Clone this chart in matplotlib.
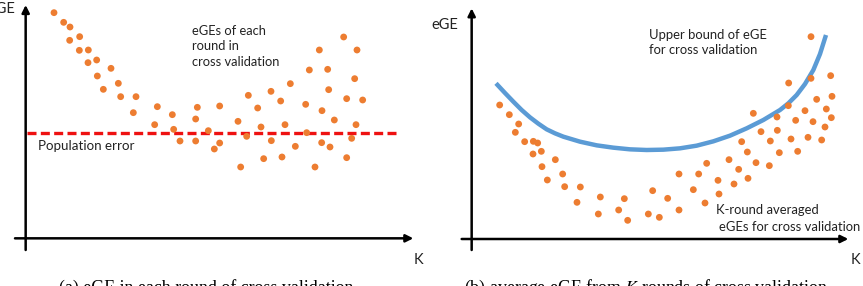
import matplotlib
matplotlib.use("Agg")
import matplotlib.pyplot as plt

plt.rcParams["mathtext.fontset"] = "stix"

# (a) eGE of every round of cross validation (arbitrary units)
k_a = [85, 114, 133, 132, 162, 161, 188, 187, 213, 215, 256, 233, 278, 285, 331,
       323, 395, 387, 440, 444, 463, 510, 515, 510, 548, 582, 566, 582, 637, 645,
       663, 668, 696, 706, 714, 736, 737, 765, 769, 778, 794, 809, 840, 843, 851,
       868, 881, 889, 888, 906, 909, 913, 926, 954, 963, 963, 978, 987, 991, 994,
       1011]
ege_a = [677, 648, 634, 594, 605, 564, 565, 527, 535, 487, 510, 447, 465, 425, 425,
         377, 395, 341, 371, 327, 292, 358, 393, 292, 323, 397, 268, 286, 351, 214,
         306, 429, 391, 334, 239, 441, 293, 412, 244, 341, 464, 276, 402, 317, 505,
         214, 565, 383, 287, 507, 446, 274, 355, 604, 419, 242, 300, 479, 341, 565,
         415]
pop_error = 315

# (b) K-round averaged eGE
k_b = [84, 113, 141, 131, 159, 185, 198, 184, 209, 211, 251, 227, 273, 279, 326,
       316, 386, 380, 458, 441, 468, 543, 530, 563, 588, 622, 622, 665, 681, 700,
       705, 739, 742, 772, 787, 801, 810, 827, 829, 845, 853, 868, 893, 896, 916,
       917, 923, 951, 950, 958, 972, 978, 1000, 1009, 1018, 1018, 1024, 1035, 1050,
       1064, 1060, 1077, 1081, 1079]
ege_b = [402, 373, 345, 320, 292, 293, 288, 255, 263, 217, 238, 177, 195, 157, 156,
         110, 126, 75, 121, 87, 56, 145, 75, 65, 122, 195, 87, 148, 195, 108,
         227, 176, 135, 238, 165, 209, 292, 261, 182, 377, 229, 322, 220, 294, 366,
         326, 259, 468, 400, 300, 356, 263, 385, 305, 607, 482, 352, 419, 297,
         390, 336, 490, 428, 364]

# upper bound curve
k_ub = [73, 100, 125, 150, 175, 200, 225, 250, 275, 325, 375, 425, 475, 525, 575,
        625, 675, 725, 775, 825, 875, 925, 950, 975, 1000, 1025, 1045, 1063]
ub = [467, 438, 412, 387, 365, 346, 329, 317, 307, 292, 281, 274, 269, 267, 268,
      272, 280, 293, 310, 332, 357, 387, 407, 432, 465, 507, 555, 612]

orange = "#ED7D31"
blue = "#5B9BD5"
red = "#EE1111"
txt = "#222222"
sans = ["Lato", "DejaVu Sans"]

fig = plt.figure(figsize=(8.63, 2.86), dpi=100)

ax1 = fig.add_axes([0, 0, 431 / 863, 1])
ax1.set_xlim(-77, 1216)
ax1.set_ylim(-143, 715)
ax1.axis("off")

ax2 = fig.add_axes([430 / 863, 0, 433 / 863, 1])
ax2.set_xlim(-125, 1174)
ax2.set_ylim(-141, 717)
ax2.axis("off")

arrow = dict(arrowstyle="-|>", lw=1.8, color="black", mutation_scale=11,
             shrinkA=0, shrinkB=0)

# panel a
ax1.annotate("", xy=(1163, 0), xytext=(-32, 0), arrowprops=arrow)
ax1.annotate("", xy=(0, 700), xytext=(0, -35), arrowprops=arrow)
ax1.plot([3, 1123], [pop_error, pop_error], color=red, lw=2.4,
         dashes=(2.7, 1.3), solid_capstyle="butt", dash_capstyle="butt")
ax1.scatter(k_a, ege_a, s=24, color=orange, edgecolors="none", zorder=3)
ax1.text(-30, 687, "eGE", ha="right", va="center", fontsize=10.5,
         family=sans, color=txt)
ax1.text(1178, -65, "K", ha="center", va="center", fontsize=10.5,
         family=sans, color=txt)
ax1.text(36, 277, "Population error", ha="left", va="center", fontsize=9.6,
         family=sans, color=txt)
ax1.text(498, 576, "eGEs of each\nround in\ncross validation", ha="left",
         va="center", fontsize=9.3, family=sans, color=txt, linespacing=1.32)

# panel b
ax2.annotate("", xy=(1130, 0), xytext=(-30, 0), arrowprops=arrow)
ax2.annotate("", xy=(0, 692), xytext=(0, -33), arrowprops=arrow)
ax2.plot(k_ub, ub, color=blue, lw=3.2, solid_capstyle="butt",
         solid_joinstyle="round")
ax2.scatter(k_b, ege_b, s=24, color=orange, edgecolors="none", zorder=3)
ax2.text(-40, 642, "eGE", ha="right", va="center", fontsize=10.5,
         family=sans, color=txt)
ax2.text(1150, -63, "K", ha="center", va="center", fontsize=10.5,
         family=sans, color=txt)
ax2.text(532, 589, "Upper bound of eGE\nfor cross validation", ha="left",
         va="center", fontsize=9.4, family=sans, color=txt, linespacing=1.32)
ax2.text(733, 87, "K-round averaged", ha="left", va="center", fontsize=9.4,
         family=sans, color=txt)
ax2.text(743, 35, "eGEs for cross validation", ha="left", va="center",
         fontsize=9.4, family=sans, color=txt)

# captions (cut off at the bottom edge like the original)
fig.text(206 / 863, 1 - 293 / 286, "(a) eGE in each round of cross validation",
         ha="center", va="baseline", fontsize=12.9, family="Liberation Serif")
fig.text(646 / 863, 1 - 293 / 286,
         "(b) average eGE from $K$ rounds of cross validation",
         ha="center", va="baseline", fontsize=12.9, family="Liberation Serif")

fig.savefig("out.png", dpi=100)
